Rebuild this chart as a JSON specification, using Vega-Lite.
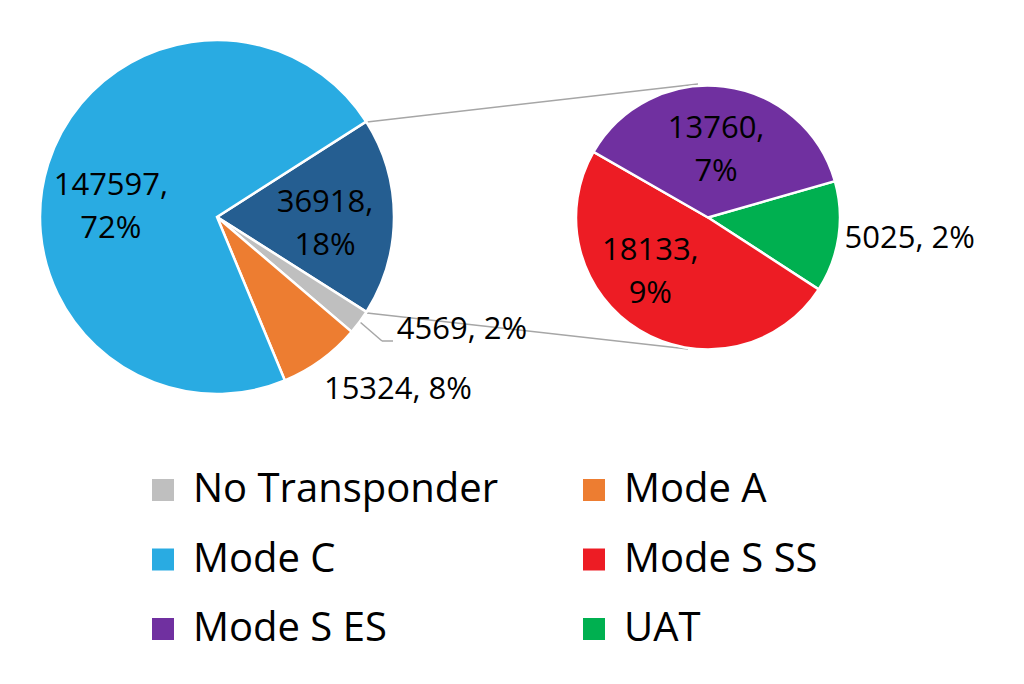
{
  "$schema": "https://vega.github.io/schema/vega-lite/v6.json",
  "width": 1024,
  "height": 684,
  "padding": 0,
  "autosize": "none",
  "background": "white",
  "config": {
    "view": {"stroke": null},
    "font": "Open Sans",
    "text": {"font": "Open Sans", "fontSize": 31, "color": "black", "lineBreak": "\n", "lineHeight": 43, "baseline": "middle"},
    "legend": {
      "orient": "none",
      "direction": "horizontal",
      "legendX": 143,
      "legendY": 470,
      "columns": 2,
      "padding": 0,
      "symbolType": "square",
      "symbolSize": 484,
      "symbolStrokeWidth": 0,
      "labelFont": "Open Sans",
      "labelFontSize": 40,
      "labelColor": "black",
      "labelOffset": 10,
      "labelLimit": 600,
      "columnPadding": 75,
      "rowPadding": 29.5,
      "title": null
    }
  },
  "datasets": {
    "main": [
      {"pie": "main", "cat": "Other", "count": 36918, "label": "36918,\n18%", "rank": 1},
      {"pie": "main", "cat": "No Transponder", "count": 4569, "label": "4569, 2%", "rank": 2},
      {"pie": "main", "cat": "Mode A", "count": 15324, "label": "15324, 8%", "rank": 3},
      {"pie": "main", "cat": "Mode C", "count": 147597, "label": "147597,\n72%", "rank": 4}
    ],
    "sub": [
      {"pie": "sub", "cat": "UAT", "count": 5025, "label": "5025, 2%", "rank": 1},
      {"pie": "sub", "cat": "Mode S SS", "count": 18133, "label": "18133,\n9%", "rank": 2},
      {"pie": "sub", "cat": "Mode S ES", "count": 13760, "label": "13760,\n7%", "rank": 3}
    ],
    "connectors": [
      {"x": 367, "y": 122, "x2": 698, "y2": 84},
      {"x": 367, "y": 313, "x2": 688, "y2": 349},
      {"x": 360, "y": 322, "x2": 382, "y2": 341},
      {"x": 382, "y": 341, "x2": 393, "y2": 341}
    ]
  },
  "layer": [
    {
      "data": {"name": "connectors"},
      "mark": {"type": "rule", "color": "#A6A6A6", "strokeWidth": 1.5},
      "encoding": {
        "x": {"field": "x", "type": "quantitative", "scale": {"domain": [0, 1024], "range": [0, 1024]}, "axis": null},
        "y": {"field": "y", "type": "quantitative", "scale": {"domain": [0, 684], "range": [0, 684]}, "axis": null},
        "x2": {"field": "x2"},
        "y2": {"field": "y2"}
      }
    },
    {
      "data": {"name": "main"},
      "encoding": {
        "x": {"field": "pie", "type": "nominal", "scale": {"domain": ["main", "sub"], "range": [217, 708], "padding": 0}, "axis": null},
        "y": {"field": "pie", "type": "nominal", "scale": {"domain": ["main", "sub"], "range": [217, 217.5], "padding": 0}, "axis": null},
        "theta": {"field": "count", "type": "quantitative", "stack": true, "scale": {"range": [1.0018, 7.285]}},
        "order": {"field": "rank", "type": "quantitative"}
      },
      "layer": [
        {
          "mark": {"type": "arc", "radius": 177, "stroke": "white", "strokeWidth": 2.5},
          "encoding": {
            "color": {
              "field": "cat", "type": "nominal",
              "scale": {
                "domain": ["No Transponder", "Mode A", "Mode C", "Mode S SS", "Mode S ES", "UAT", "Other"],
                "range": ["#BFBFBF", "#ED7D31", "#29ABE2", "#ED1C24", "#7030A0", "#00B050", "#255E91"]
              },
              "legend": {"values": ["No Transponder", "Mode A", "Mode C", "Mode S SS", "Mode S ES", "UAT"]}
            }
          }
        },
        {
          "mark": {"type": "text", "radius": 106, "align": "center", "dx": -5, "dy": 1},
          "encoding": {"text": {"condition": {"test": "datum.cat === 'Mode C'", "field": "label", "type": "nominal"}, "value": ""}}
        },
        {
          "mark": {"type": "text", "radius": 108, "align": "center", "dy": -14},
          "encoding": {"text": {"condition": {"test": "datum.cat === 'Other'", "field": "label", "type": "nominal"}, "value": ""}}
        },
        {
          "mark": {"type": "text", "radius": 190, "align": "left", "dx": 27},
          "encoding": {"text": {"condition": {"test": "datum.cat === 'No Transponder'", "field": "label", "type": "nominal"}, "value": ""}}
        },
        {
          "mark": {"type": "text", "radius": 214, "align": "left", "dx": -19},
          "encoding": {"text": {"condition": {"test": "datum.cat === 'Mode A'", "field": "label", "type": "nominal"}, "value": ""}}
        }
      ]
    },
    {
      "data": {"name": "sub"},
      "encoding": {
        "x": {"field": "pie", "type": "nominal", "scale": {"domain": ["main", "sub"], "range": [217, 708], "padding": 0}, "axis": null},
        "y": {"field": "pie", "type": "nominal", "scale": {"domain": ["main", "sub"], "range": [217, 217.5], "padding": 0}, "axis": null},
        "theta": {"field": "count", "type": "quantitative", "stack": true, "scale": {"range": [1.2915, 7.5747]}},
        "order": {"field": "rank", "type": "quantitative"}
      },
      "layer": [
        {
          "mark": {"type": "arc", "radius": 132, "stroke": "white", "strokeWidth": 2.5},
          "encoding": {
            "color": {
              "field": "cat", "type": "nominal",
              "scale": {
                "domain": ["No Transponder", "Mode A", "Mode C", "Mode S SS", "Mode S ES", "UAT", "Other"],
                "range": ["#BFBFBF", "#ED7D31", "#29ABE2", "#ED1C24", "#7030A0", "#00B050", "#255E91"]
              },
              "legend": {"values": ["No Transponder", "Mode A", "Mode C", "Mode S SS", "Mode S ES", "UAT"]}
            }
          }
        },
        {
          "mark": {"type": "text", "radius": 67, "align": "center", "dy": -22},
          "encoding": {"text": {"condition": {"test": "datum.cat === 'Mode S ES'", "field": "label", "type": "nominal"}, "value": ""}}
        },
        {
          "mark": {"type": "text", "radius": 80, "align": "center", "dx": -16, "dy": -35},
          "encoding": {"text": {"condition": {"test": "datum.cat === 'Mode S SS'", "field": "label", "type": "nominal"}, "value": ""}}
        },
        {
          "mark": {"type": "text", "radius": 138, "align": "left", "dy": 1},
          "encoding": {"text": {"condition": {"test": "datum.cat === 'UAT'", "field": "label", "type": "nominal"}, "value": ""}}
        }
      ]
    }
  ],
  "resolve": {"scale": {"theta": "independent", "x": "independent", "y": "independent"}}
}
